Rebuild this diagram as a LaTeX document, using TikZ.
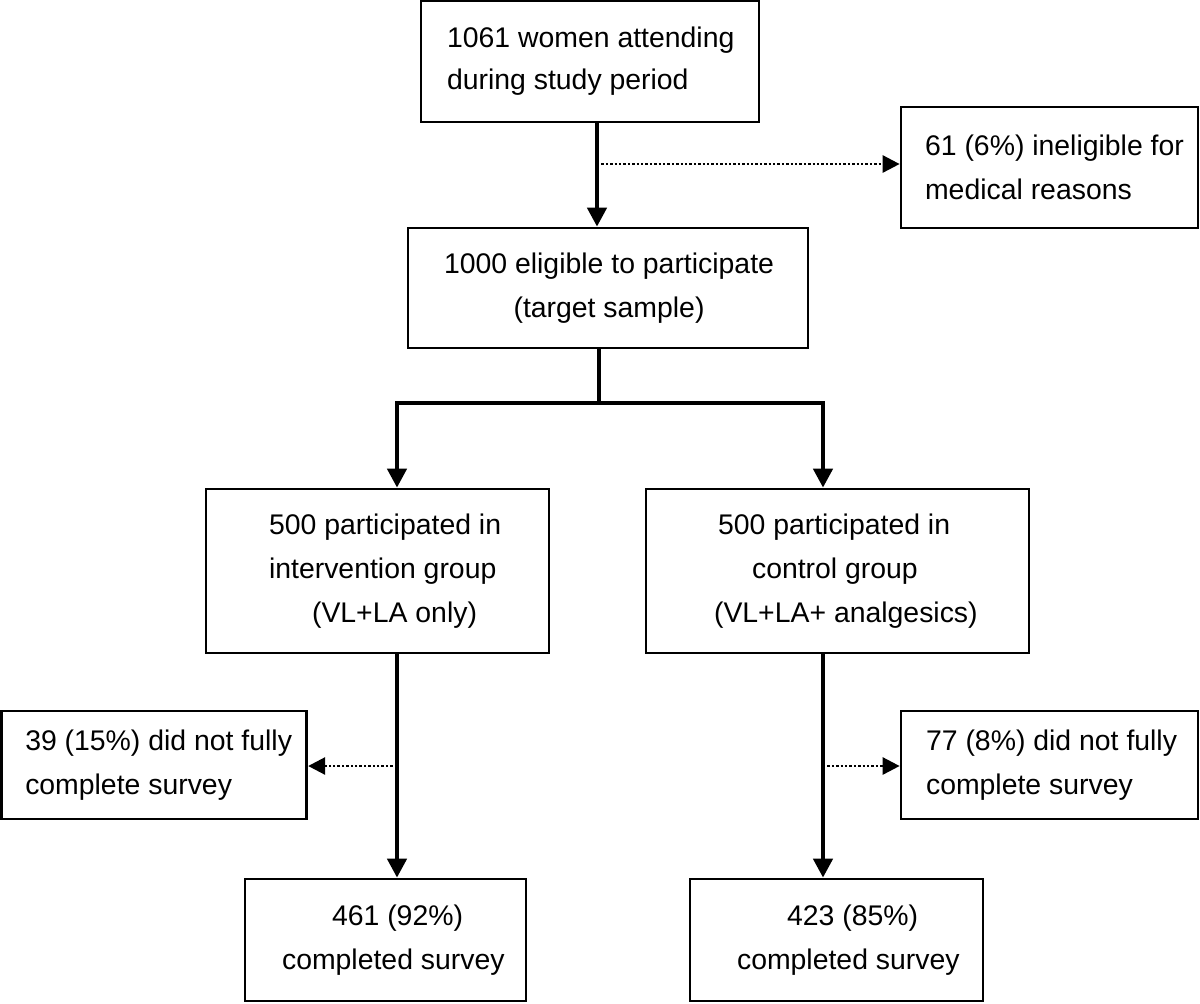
\documentclass[tikz,border=0pt]{standalone}
\usepackage{fontspec}
\setmainfont{Liberation Sans}
\usetikzlibrary{arrows.meta}
\begin{document}
\begin{tikzpicture}[x=0.5pt,y=-0.5pt,
  box/.style={draw,line width=1.35pt,inner sep=0pt,rectangle},
  txt/.style={inner sep=0pt,anchor=west,align=left,font=\fontsize{14.2}{22}\selectfont},
  mainline/.style={line width=2.2pt},
  mainarrow/.style={line width=2.2pt,-{Triangle[length=9.5pt,width=9.5pt]}},
  sidearrow/.style={line width=1.35pt,dash pattern=on 1.2pt off 1pt,-{Triangle[length=8.5pt,width=8.5pt]}}]
\useasboundingbox (0,0) rectangle (1200,1003);
% boxes
\node[box,minimum width=169pt,minimum height=60.5pt] (b1) at (590,61.5) {};
\node[box,minimum width=148.5pt,minimum height=60.5pt] (b3) at (1049.5,167.5) {};
\node[box,minimum width=200pt,minimum height=60pt] (b2) at (608,288) {};
\node[box,minimum width=171.5pt,minimum height=82pt] (b4) at (377.5,571) {};
\node[box,minimum width=191.5pt,minimum height=82pt] (b5) at (837.5,571) {};
\node[box,minimum width=152.8pt,minimum height=54pt] (bL) at (154,765) {};
\node[box,minimum width=148.5pt,minimum height=54pt] (bR) at (1049.5,765) {};
\node[box,minimum width=140.5pt,minimum height=61pt] (b6) at (385.5,940) {};
\node[box,minimum width=146.5pt,minimum height=61pt] (b7) at (836.5,940) {};
% texts
\node[txt,font=\fontsize{14.2}{21}\selectfont] (t1) at ([xshift=13.5pt]b1.west) {1061 women attending\\during study period};
\node[txt] (t3) at ([xshift=12.5pt]b3.west) {61 (6\%) ineligible for\\medical reasons};
\node[txt,align=center] (t2) at ([xshift=18.5pt]b2.west) {1000 eligible to participate\\(target sample)};
\node[txt] (t4) at ([xshift=32pt]b4.west) {500 participated in\\intervention group\\\hspace*{21.5pt}(VL+LA only)};
\node[txt] (t5) at ([xshift=34.5pt]b5.west) {\hspace*{2pt}500 participated in\\\hspace*{19pt}control group\\(VL+LA+ analgesics)};
\node[txt] (tL) at ([xshift=12.5pt]bL.west) {39 (15\%) did not fully\\complete survey};
\node[txt] (tR) at ([xshift=13pt]bR.west) {77 (8\%) did not fully\\complete survey};
\node[txt] (t6) at ([xshift=19pt]b6.west) {\hspace*{25pt}461 (92\%)\\completed survey};
\node[txt] (t7) at ([xshift=24pt]b7.west) {\hspace*{25pt}423 (85\%)\\completed survey};
% junction coordinates
\coordinate (j1) at (597,164);
\coordinate (j2) at (599,403);
\coordinate (j3) at (397,766);
\coordinate (j4) at (823,766);
% connectors
\draw[mainarrow] (b1.south -| j1) -- (b2.north -| j1);
\draw[sidearrow] (j1) -- (b3.west |- j1);
\draw[mainline] (b2.south -| j2) -- (j2);
\draw[mainarrow] (j2) -| (b4.north -| j3);
\draw[mainarrow] (j2) -| (b5.north -| j4);
\draw[mainarrow] (b4.south -| j3) -- (b6.north -| j3);
\draw[mainarrow] (b5.south -| j4) -- (b7.north -| j4);
\draw[sidearrow] (j3) -- (bL.east |- j3);
\draw[sidearrow] (j4) -- (bR.west |- j4);
\end{tikzpicture}
\end{document}
